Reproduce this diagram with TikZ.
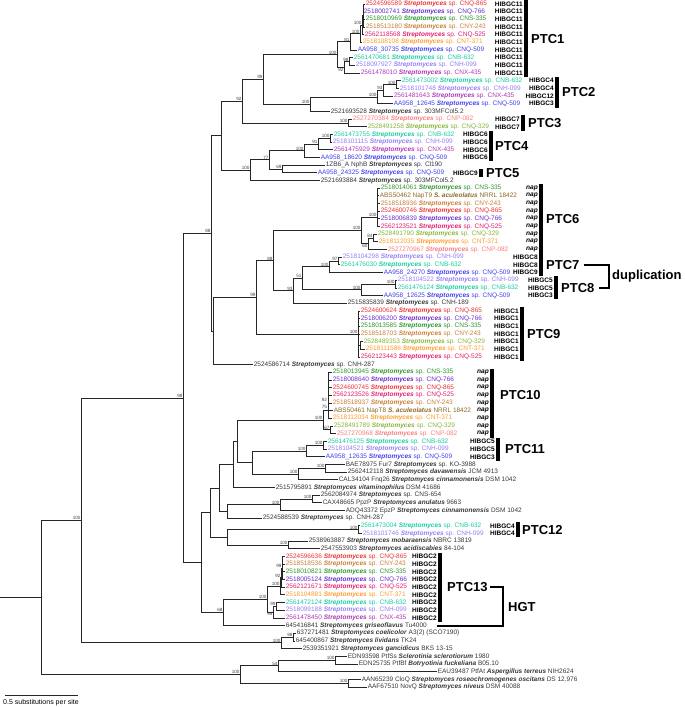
\documentclass[tikz,border=0pt]{standalone}
\usepackage{fontspec}
\setmainfont{Liberation Sans}
\definecolor{c865}{RGB}{235,50,50}   \definecolor{c766}{RGB}{105,45,205}
\definecolor{c335}{RGB}{45,150,45}   \definecolor{c243}{RGB}{200,125,55}
\definecolor{c525}{RGB}{225,30,110}  \definecolor{c371}{RGB}{255,155,40}
\definecolor{c509}{RGB}{65,65,235}   \definecolor{c632}{RGB}{25,205,160}
\definecolor{c099}{RGB}{150,125,245} \definecolor{c435}{RGB}{175,55,185}
\definecolor{c082}{RGB}{250,125,125} \definecolor{c329}{RGB}{135,180,55}
\definecolor{c422}{RGB}{140,105,35}  \definecolor{cblk}{RGB}{55,55,55}
\newcommand{\Str}{\textbf{\textit{Streptomyces}}}
\newcommand{\Ssp}[1]{\Str\ sp. #1}
\newcommand{\spn}[1]{\textbf{\textit{#1}}}
% Zeilenhoehe der Blaetter
\pgfmathdeclarefunction{ly}{1}{\pgfmathparse{4+(#1-1)*7.674}}
\tikzset{
  branch/.style={line width=0.85pt, black!85},
  leafnode/.style={anchor=west, inner sep=0pt, outer xsep=0.8pt, font=\fontsize{6.5}{7}\selectfont},
  boot/.style={anchor=south east, inner sep=0.3pt, font=\fontsize{4.6}{5}\selectfont, text=black!75},
  bootdown/.style={boot, anchor=north east},
  hibgc/.style={anchor=east, inner sep=0pt, font=\fontsize{6.5}{7}\selectfont\bfseries},
  napl/.style={hibgc, font=\fontsize{6.6}{7}\selectfont\bfseries\itshape},
  ptcbar/.style={line width=3.6pt},
  ptclabel/.style={anchor=west, inner sep=0pt, font=\fontsize{13}{15}\selectfont\bfseries},
  bracket/.style={line width=2.2pt},
}
\begin{document}
\begin{tikzpicture}[x=1pt, y=-1pt]
\useasboundingbox (0,0) rectangle (685,707);
% Blaetter
\foreach \k/\px/\col/\txt in {
 1/365/c865/{2524596589 \Ssp{CNQ-865}}, 2/363/c766/{2518002741 \Ssp{CNQ-766}},
 3/365/c335/{2518010969 \Ssp{CNS-335}}, 4/365/c243/{2518513180 \Ssp{CNY-243}},
 5/364/c525/{2562118568 \Ssp{CNQ-525}}, 6/362/c371/{2518108108 \Ssp{CNT-371}},
 7/357/c509/{AA958\_30735 \Ssp{CNQ-509}}, 8/353/c632/{2561470681 \Ssp{CNB-632}},
 9/355/c099/{2518097927 \Ssp{CNH-099}}, 10/360/c435/{2561478010 \Ssp{CNX-435}},
 11/401/c632/{2561473002 \Ssp{CNB-632}}, 12/399/c099/{2518101748 \Ssp{CNH-099}},
 13/393/c435/{2561481643 \Ssp{CNX-435}}, 14/393/c509/{AA958\_12645 \Ssp{CNQ-509}},
 15/330/cblk/{2521693528 \Ssp{303MFCol5.2}},
 16/352/c082/{2527270384 \Ssp{CNP-082}}, 17/367/c329/{2528491258 \Ssp{CNQ-329}},
 18/333/c632/{2561473755 \Ssp{CNB-632}}, 19/332/c099/{2518101115 \Ssp{CNH-099}},
 20/333/c435/{2561475929 \Ssp{CNX-435}}, 21/320/c509/{AA958\_18620 \Ssp{CNQ-509}},
 22/325/cblk/{1ZB6\_A NphB \Ssp{Cl190}}, 23/317/c509/{AA958\_24325 \Ssp{CNQ-509}},
 24/320/cblk/{2521693884 \Ssp{303MFCol5.2}},
 25/380/c335/{2518014061 \Ssp{CNS-335}}, 26/379/c422/{ABS50462 NapT9 \spn{S. aculeolatus} NRRL 18422},
 27/380/c243/{2518518936 \Ssp{CNY-243}}, 28/380/c865/{2524600746 \Ssp{CNQ-865}},
 29/380/c766/{2518006839 \Ssp{CNQ-766}}, 30/380/c525/{2562123521 \Ssp{CNQ-525}},
 31/377/c329/{2528491790 \Ssp{CNQ-329}}, 32/378/c371/{2518112035 \Ssp{CNT-371}},
 33/387/c082/{2527270967 \Ssp{CNP-082}},
 34/342/c099/{2518104298 \Ssp{CNH-099}}, 35/340/c632/{2561476030 \Ssp{CNB-632}},
 36/383/c509/{AA958\_24270 \Ssp{CNQ-509}},
 37/397/c099/{2518104522 \Ssp{CNH-099}}, 38/397/c632/{2561476124 \Ssp{CNB-632}},
 39/383/c509/{AA958\_12625 \Ssp{CNQ-509}}, 40/347/cblk/{2515835839 \Ssp{CNH-189}},
 41/360/c865/{2524600624 \Ssp{CNQ-865}}, 42/360/c766/{2518006200 \Ssp{CNQ-766}},
 43/360/c335/{2518013585 \Ssp{CNS-335}}, 44/360/c243/{2518518703 \Ssp{CNY-243}},
 45/363/c329/{2528489353 \Ssp{CNQ-329}}, 46/365/c371/{2518111586 \Ssp{CNT-371}},
 47/360/c525/{2562123443 \Ssp{CNQ-525}}, 48/253/cblk/{2524586714 \Ssp{CNH-287}},
 49/332/c335/{2518013945 \Ssp{CNS-335}}, 50/332/c766/{2518008640 \Ssp{CNQ-766}},
 51/332/c865/{2524600745 \Ssp{CNQ-865}}, 52/332/c525/{2562123526 \Ssp{CNQ-525}},
 53/332/c243/{2518518937 \Ssp{CNY-243}}, 54/333/c422/{ABS50461 NapT8 \spn{S. aculeolatus} NRRL 18422},
 55/332/c371/{2518112034 \Ssp{CNT-371}}, 56/333/c329/{2528491789 \Ssp{CNQ-329}},
 57/336/c082/{2527270968 \Ssp{CNP-082}},
 58/327/c632/{2561476125 \Ssp{CNB-632}}, 59/327/c099/{2518104521 \Ssp{CNH-099}},
 60/325/c509/{AA958\_12635 \Ssp{CNQ-509}},
 61/345/cblk/{BAE78975 Fur7 \Ssp{KO-3988}},
 62/347/cblk/{2562412118 \spn{Streptomyces davawensis} JCM 4913},
 63/338/cblk/{CAL34104 Fnq26 \spn{Streptomyces cinnamonensis} DSM 1042},
 64/275/cblk/{2515795891 \spn{Streptomyces vitaminophilus} DSM 41686},
 65/320/cblk/{2562084974 \Ssp{CNS-654}},
 66/322/cblk/{CAX48665 PpzP \spn{Streptomyces anulatus} 9663},
 67/345/cblk/{ADQ43372 EpzP \spn{Streptomyces cinnamonensis} DSM 1042},
 68/262/cblk/{2524588539 \Ssp{CNH-287}},
 69/360/c632/{2561473004 \Ssp{CNB-632}}, 70/362/c099/{2518101746 \Ssp{CNH-099}},
 71/308/cblk/{2538963887 \spn{Streptomyces mobaraensis} NBRC 13819},
 72/320/cblk/{2547553903 \spn{Streptomyces acidiscabies} 84-104},
 73/285/c865/{2524596636 \Ssp{CNQ-865}}, 74/285/c243/{2518518536 \Ssp{CNY-243}},
 75/285/c335/{2518010821 \Ssp{CNS-335}}, 76/285/c766/{2518005124 \Ssp{CNQ-766}},
 77/285/c525/{2562121671 \Ssp{CNQ-525}}, 78/285/c371/{2518104881 \Ssp{CNT-371}},
 79/285/c632/{2561472124 \Ssp{CNB-632}}, 80/285/c099/{2518099188 \Ssp{CNH-099}},
 81/285/c435/{2561478450 \Ssp{CNX-435}},
 82/285/cblk/{645416841 \spn{Streptomyces griseoflavus} Tu4000},
 83/296/cblk/{637271481 \spn{Streptomyces coelicolor} A3(2) (SCO7190)},
 84/295/cblk/{645400867 \spn{Streptomyces lividans} TK24},
 85/302/cblk/{2539351921 \spn{Streptomyces gancidicus} BKS 13-15},
 86/347/cblk/{EDN93598 PtfSs \spn{Sclerotinia sclerotiorum} 1980},
 87/358/cblk/{EDN25735 PtfBf \spn{Botryotinia fuckeliana} B05.10},
 88/437/cblk/{EAU39487 PtfAt \spn{Aspergillus terreus} NIH2624},
 89/361/cblk/{AAN65239 CloQ \spn{Streptomyces roseochromogenes oscitans} DS 12.976},
 90/367/cblk/{AAF67510 NovQ \spn{Streptomyces niveus} DSM 40088}}
 {\node[leafnode, text=\col] (l\k) at (\px,{ly(\k)}) {\txt};}
% innere Knoten (x, mittlerer Blattindex)
\foreach \n/\px/\k in {root/0/78.34, nA/41/78.34, nB/81/68.3, nC/183/52.34, nD/211/30.89,
 nD2/213/43.61, nF/221/18.16, nG/242/13.66, nI/263/10.83, n1/337/7.59, n1a/350/5.9375,
 n1c/360/4.875, n1e/362/3.75, n1f/363.5/2.5, n1b/344/9.25, n1g/349/8.5, n2j/310/14.06,
 n2m/377/13.125, n2l/383/12.25, n2k/396/11.5, n3/348/16.5, nH/250/22.66, n5n/269/21.31,
 n4o/304/20.125, n4q/318/19.25, n4r/330/18.5, n5p/282/22.5, nS/256/39.22, nT/273/34.44,
 n6/361/30.5, n6a/377/28.8, n6b/368/32.25, n6c/373/31.5, nU/293/38.375, nV/302/36.75,
 n7/329/35.25, n7w/338/34.5, n8/361/38.25, n8z/395/37.5, n9/358/44, n9s/360.5/45.5,
 nE/201/73.78, nE1/210/67.28, nE1a/219/64.06, nE1b/233/60.99, nE1c/237/57.98,
 n10/323/55.2, n10u/328/53.9, n10l/330/56.5, nE1d/252/60.75, n11/306/59.25, n11a/323/58.5,
 nfur/298/62.25, nf1/325/61.5, nE1e/227/67.125, npp/280/66.25, npp1/312/65.5,
 nE1f/227/70.5, n12/358/69.5, n12b/288/71.5, nE2/223/80.28, n13/267/78.56,
 n13a3/280/76.875, n13a2/281/75.75, n13a1/282/74.5, n13b/273/80.25, n13b1/276/79.5,
 nco/281/84.25, nco1/293/83.5, nOG/240/88.375, nff/278/87.25, nfs/335/86.5, ncn/348/89.5}
 {\coordinate (\n) at (\px,{ly(\k)});}
% Aeste
\foreach \p/\q in {root/nA, nA/nB, nA/nOG, nB/nC, nB/nco, nC/nD, nC/nE, nD/nF, nD/nD2,
 nF/nG, nF/nH, nG/nI, nG/n3, nI/n1, nI/n2j, n1/n1a, n1/n1b, n1a/n1c, n1a/l7.west,
 n1c/n1e, n1c/l6.west, n1e/n1f, n1e/l5.west, n1b/n1g, n1b/l10.west, n1g/l8.west, n1g/l9.west,
 n2j/n2m, n2j/l15.west, n2m/n2l, n2m/l14.west, n2l/n2k, n2l/l13.west, n2k/l11.west,
 n2k/l12.west, n3/l16.west, n3/l17.west, nH/n5n, nH/l24.west, n5n/n4o, n5n/n5p,
 n4o/n4q, n4o/l21.west, n4q/n4r, n4q/l20.west, n4r/l18.west, n4r/l19.west,
 n5p/l22.west, n5p/l23.west, nD2/nS, nD2/l48.west, nS/nT, nS/n9, nT/n6, nT/nU,
 n6/n6a, n6/n6b, n6b/n6c, n6b/l33.west, n6c/l31.west, n6c/l32.west, nU/nV, nU/l40.west,
 nV/n7, nV/n8, n7/n7w, n7/l36.west, n7w/l34.west, n7w/l35.west, n8/n8z, n8/l39.west,
 n8z/l37.west, n8z/l38.west, n9/n9s, n9s/l45.west, n9s/l46.west,
 nE/nE1, nE/nE2, nE1/nE1a, nE1/nE1f, nE1a/nE1b, nE1a/nE1e, nE1b/nE1c, nE1b/l64.west,
 nE1c/n10, nE1c/nE1d, n10/n10u, n10/n10l, n10l/l56.west, n10l/l57.west, nE1d/n11,
 nE1d/nfur, n11/n11a, n11/l60.west, n11a/l58.west, n11a/l59.west, nfur/nf1, nfur/l63.west,
 nf1/l61.west, nf1/l62.west, nE1e/npp, nE1e/l68.west, npp/npp1, npp/l67.west,
 npp1/l65.west, npp1/l66.west, nE1f/n12, nE1f/n12b, n12/l69.west, n12/l70.west,
 n12b/l71.west, n12b/l72.west, nE2/n13, nE2/l82.west, n13/n13a3, n13/n13b,
 n13a3/n13a2, n13a3/l78.west, n13a2/n13a1, n13a2/l77.west, n13b/n13b1, n13b/l81.west,
 n13b1/l79.west, n13b1/l80.west, nco/nco1, nco/l85.west, nco1/l83.west, nco1/l84.west,
 nOG/nff, nOG/ncn, nff/nfs, nff/l88.west, nfs/l86.west, nfs/l87.west, ncn/l89.west, ncn/l90.west}
 {\draw[branch] (\p) |- (\q);}
\foreach \i in {1,...,4} \draw[branch] (n1f) |- (l\i.west);
\foreach \i in {25,...,30} \draw[branch] (n6a) |- (l\i.west);
\foreach \i in {41,...,44,47} \draw[branch] (n9) |- (l\i.west);
\foreach \i in {49,...,55} \draw[branch] (n10u) |- (l\i.west);
\foreach \i in {73,...,76} \draw[branch] (n13a1) |- (l\i.west);
% Bootstrapwerte
\foreach \n/\t in {n1e/100, n1c/100, n1a/81, n1g/98, n1/100, n2k/100, n2l/93, n2m/100,
 n2j/100, nI/99, n3/100, nG/92, n4r/100, n4q/91, n4o/100, n5p/69, n5n/77, nH/100, nD/88,
 nC/98, nB/100, n6a/100, n6c/84, n6/100, n7w/97, n7/100, n8z/100, n8/100, nV/51, nU/93,
 nT/88, n9/100, nS/99, n10/100, n10l/67, n11a/100, n11/100, nf1/100, nfur/100, npp1/100,
 npp/100, n12/100, n12b/100, n13a1/99, n13a2/92, n13a3/100, n13b1/99, n13/100, nE2/68,
 nco1/98, nco/100, nfs/100, nff/54, ncn/100, nOG/100}
 {\node[boot] (b\n) at (\n) {\t};}
\foreach \n/\t in {n1b/92, n6b/60, n13b/99} \node[bootdown] (b\n) at (\n) {\t};
\node[boot, anchor=east] (b10a) at (327.5,{ly(52.6)}) {92};
\node[boot, anchor=east] (b10b) at (327.5,{ly(53.5)}) {75};
% HIBGC / nap
\foreach \i in {1,...,10} \node[hibgc] (h\i) at (523,{ly(\i)}) {HIBGC11};
\foreach \i/\t in {11/4,12/4,13/12,14/3} \node[hibgc] (h\i) at (554,{ly(\i)}) {HIBGC\t};
\foreach \i in {16,17} \node[hibgc] (h\i) at (520,{ly(\i)}) {HIBGC7};
\foreach \i in {18,...,21} \node[hibgc] (h\i) at (488,{ly(\i)}) {HIBGC6};
\node[hibgc] (h23) at (478,{ly(23)}) {HIBGC9};
\foreach \i in {25,...,33} \node[napl] (h\i) at (538,{ly(\i)}) {nap};
\foreach \i/\t in {34/8,35/8,36/9} \node[hibgc] (h\i) at (538,{ly(\i)}) {HIBGC\t};
\foreach \i/\t in {37/5,38/5,39/3} \node[hibgc] (h\i) at (553,{ly(\i)}) {HIBGC\t};
\foreach \i in {41,...,47} \node[hibgc] (h\i) at (519,{ly(\i)}) {HIBGC1};
\foreach \i in {49,...,57} \node[napl] (h\i) at (489,{ly(\i)}) {nap};
\foreach \i/\t in {58/5,59/5,60/3} \node[hibgc] (h\i) at (495,{ly(\i)}) {HIBGC\t};
\foreach \i in {69,70} \node[hibgc] (h\i) at (515,{ly(\i)}) {HIBGC4};
\foreach \i in {73,...,81} \node[hibgc] (h\i) at (437,{ly(\i)}) {HIBGC2};
% PTC-Balken und Namen
\foreach \a/\b/\bx/\lx/\lk/\n/\t in {1/10/526/531/5.5/p1/PTC1, 11/14/557/562/12.5/p2/PTC2,
 16/17/523/528/16.5/p3/PTC3, 18/21/491/495/19.5/p4/PTC4, 23/23/481/486/23/p5/PTC5,
 25/33/541/546/29/p6/PTC6, 34/36/541/546/35/p7/PTC7, 37/39/556/561/38/p8/PTC8,
 41/47/522/527/44/p9/PTC9, 49/57/492/500/52/p10/PTC10, 58/60/498/505/59/p11/PTC11,
 69/70/518/522/69.5/p12/PTC12, 73/81/440/447/77/p13/PTC13}
 {\draw[ptcbar] (\bx,{ly(\a)-3.8}) -- (\bx,{ly(\b)+3.8});
  \node[ptclabel] (\n) at (\lx,{ly(\lk)}) {\t};}
% Duplikation und HGT
\coordinate (dupA) at (609,{ly(35)}); \coordinate (dupB) at (609,{ly(38)});
\draw[bracket] ([xshift=4pt]p7.east) -- (dupA) -- (dupB) -- ([xshift=4pt]p8.east);
\node[ptclabel] (dup) at (612,{ly(36.5)}) {duplication};
\coordinate (hgtC) at (503,{ly(82)}); \coordinate (hgtB) at (437,{ly(82)});
\draw[bracket] ([xshift=2pt]p13.east) -| (hgtC) -- (hgtB);
\node[ptclabel] (hgt) at (508,607) {HGT};
% Massstab
\coordinate (sbL) at (5,695); \coordinate (sbR) at (78,695);
\draw[branch] (sbL) -- (sbR);
\node[anchor=west, inner sep=0pt, font=\fontsize{7}{8}\selectfont] (sbt) at (3,702.5) {0.5 substitutions per site};
\end{tikzpicture}
\end{document}
